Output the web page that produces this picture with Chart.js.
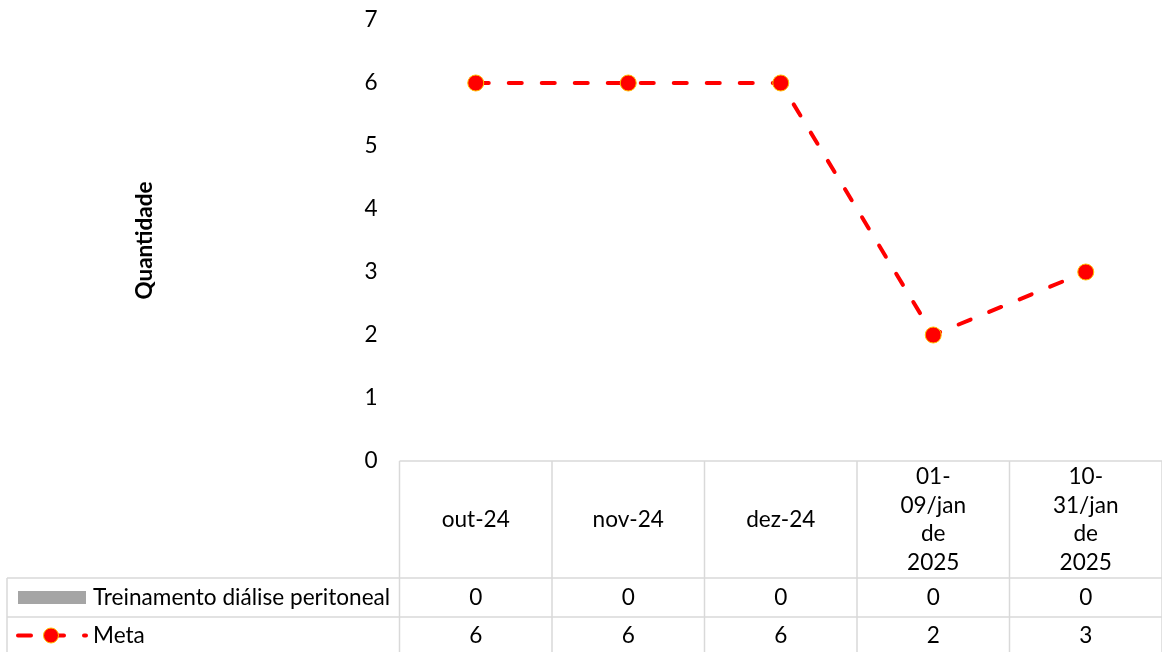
<!DOCTYPE html>
<html><head><meta charset="utf-8">
<script src="https://cdn.jsdelivr.net/npm/chart.js@4"></script>
<style>html,body{margin:0;padding:0;background:#fff}</style>
</head><body>
<canvas id="c" width="1162" height="652"></canvas>
<script>
const categories = [["out-24"],["nov-24"],["dez-24"],["01-","09/jan","de","2025"],["10-","31/jan","de","2025"]];
const treinamento = [0,0,0,0,0];
const meta = [6,6,6,2,3];
const yTicks = [0,1,2,3,4,5,6,7];
const seriesNames = ["Treinamento diálise peritoneal","Meta"];
const yTitle = "Quantidade";

const FONT = "Lato";
const FS = 22.6;
const RED = "#FF0000", ORANGE = "#FFC000", GRAY = "#A5A5A5", GRID = "#D9D9D9";

const tablePlugin = {
  id: "dataTable",
  afterDraw(chart) {
    const ctx = chart.ctx;
    const {left, right, bottom} = chart.chartArea;
    const n = categories.length;
    const colW = (right - left) / n;
    const headerBottom = bottom + 117;
    const row1Bottom = headerBottom + 39;
    const row2Bottom = row1Bottom + 39;
    const legendLeft = 7;
    ctx.save();
    ctx.strokeStyle = GRID;
    ctx.lineWidth = 1.5;
    ctx.beginPath();
    ctx.moveTo(left, bottom); ctx.lineTo(right, bottom);
    ctx.moveTo(legendLeft, headerBottom); ctx.lineTo(right, headerBottom);
    ctx.moveTo(legendLeft, row1Bottom); ctx.lineTo(right, row1Bottom);
    for (let i = 0; i <= n; i++) {
      const x = left + i * colW;
      ctx.moveTo(x, bottom); ctx.lineTo(x, row2Bottom);
    }
    ctx.moveTo(legendLeft, headerBottom); ctx.lineTo(legendLeft, row2Bottom);
    ctx.stroke();

    ctx.fillStyle = "#000";
    ctx.font = FS + "px " + FONT;
    ctx.textAlign = "center";
    ctx.textBaseline = "middle";
    const xs = chart.scales.x;
    const headerMid = (bottom + headerBottom) / 2;
    const lh = 28.5;
    categories.forEach((lines, i) => {
      const cx = xs.getPixelForValue(i);
      const start = headerMid - (lines.length - 1) * lh / 2;
      lines.forEach((t, j) => ctx.fillText(t, cx, start + j * lh));
      ctx.fillText(String(treinamento[i]), cx, (headerBottom + row1Bottom) / 2);
      ctx.fillText(String(meta[i]), cx, (row1Bottom + row2Bottom) / 2 - 1);
    });

    // legend keys
    const r1 = (headerBottom + row1Bottom) / 2;
    const r2 = (row1Bottom + row2Bottom) / 2 - 1;
    ctx.fillStyle = GRAY;
    ctx.fillRect(18, r1 - 6.5, 68, 13);
    ctx.strokeStyle = RED;
    ctx.lineWidth = 4;
    ctx.lineCap = "round";
    ctx.setLineDash([13, 20]);
    ctx.beginPath();
    ctx.moveTo(18, r2); ctx.lineTo(86, r2);
    ctx.stroke();
    ctx.setLineDash([]);
    ctx.beginPath();
    ctx.arc(51, r2, 7.5, 0, Math.PI * 2);
    ctx.fillStyle = RED; ctx.fill();
    ctx.lineWidth = 1; ctx.strokeStyle = ORANGE; ctx.stroke();

    ctx.fillStyle = "#000";
    ctx.textAlign = "left";
    ctx.font = FS + "px " + FONT;
    ctx.fillText(seriesNames[0], 93, r1);
    ctx.fillText(seriesNames[1], 93, r2);
    ctx.restore();
  }
};

new Chart(document.getElementById("c"), {
  data: {
    labels: categories,
    datasets: [
      {
        type: "line",
        label: seriesNames[1],
        data: meta,
        borderColor: RED,
        borderWidth: 4,
        borderDash: [13, 20],
        borderCapStyle: "round",
        tension: 0,
        fill: false,
        pointRadius: 8,
        pointBackgroundColor: RED,
        pointBorderColor: ORANGE,
        pointBorderWidth: 1,
        order: 0
      },
      {
        type: "bar",
        label: seriesNames[0],
        data: treinamento,
        backgroundColor: GRAY,
        borderWidth: 0,
        order: 1
      }
    ]
  },
  options: {
    responsive: false,
    animation: false,
    devicePixelRatio: 1,
    layout: { autoPadding: false, padding: { top: 20, right: 0, bottom: 191, left: 0 } },
    plugins: { legend: { display: false }, tooltip: { enabled: false } },
    scales: {
      x: { type: "category", display: false, offset: true, grid: { display: false } },
      y: {
        min: 0, max: 7,
        border: { display: false },
        grid: { display: false, drawTicks: false },
        afterBuildTicks: (s) => { s.ticks = yTicks.map(v => ({ value: v })); },
        afterFit: (s) => { s.width = 399.5; s.paddingTop = 0; s.paddingBottom = 0; },
        ticks: { color: "#000", padding: 22, font: { family: FONT, size: FS } },
        title: {
          display: true, text: yTitle, color: "#000",
          font: { family: FONT, size: 22.5, weight: "bold" },
          padding: { top: 131, bottom: 0 }
        }
      }
    }
  },
  plugins: [tablePlugin]
});
</script>
</body></html>
